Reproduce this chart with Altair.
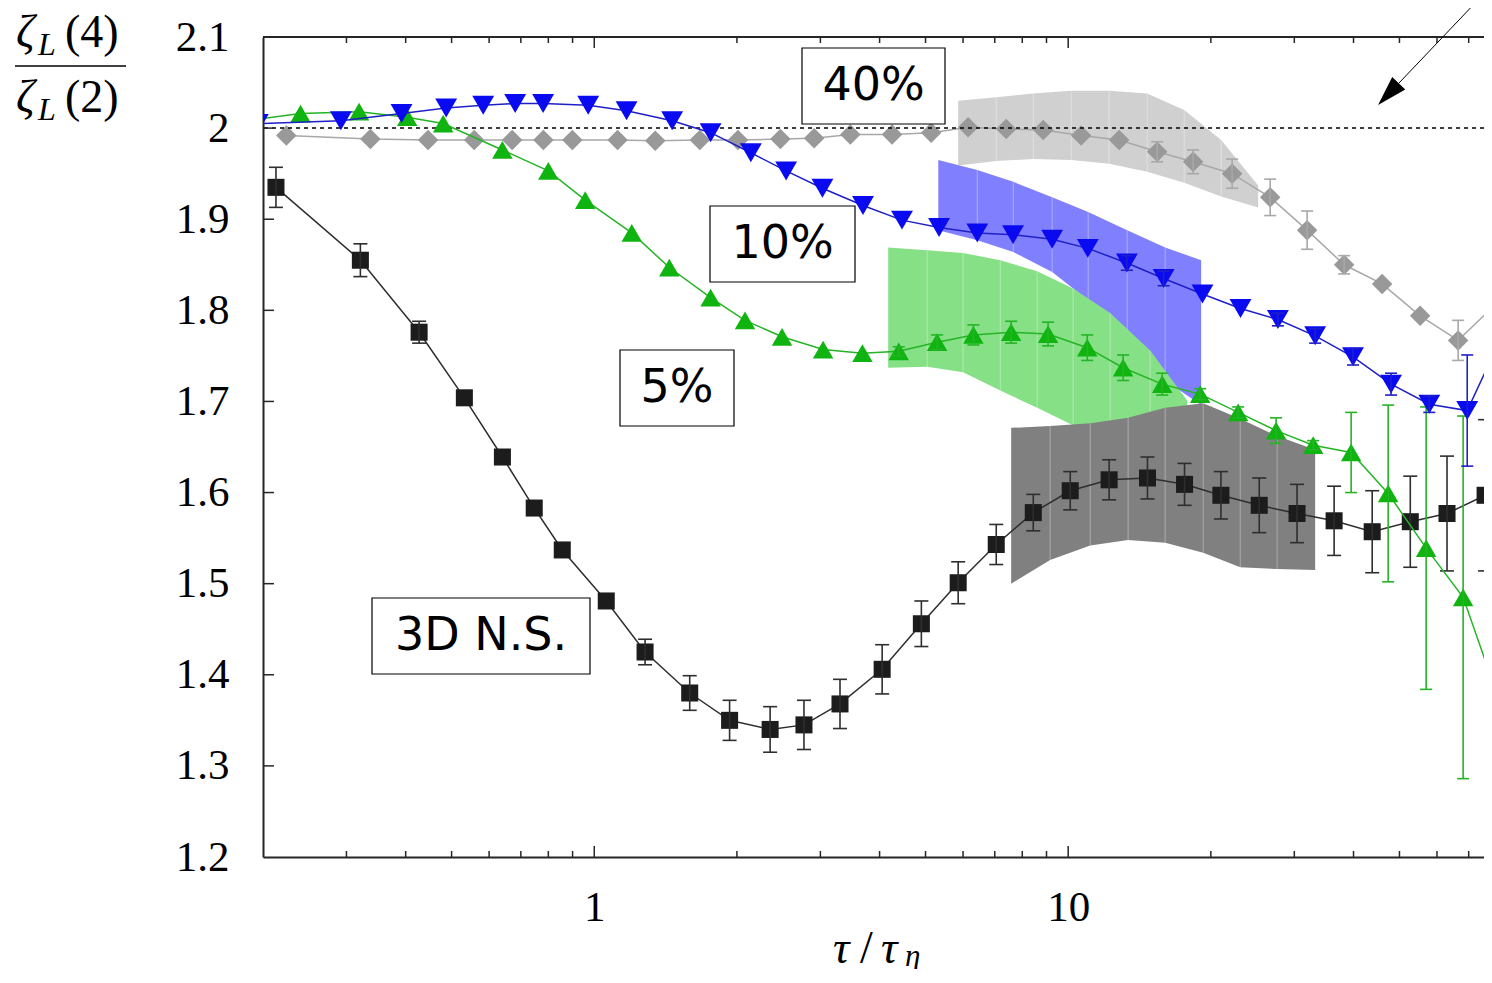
import altair as alt
import pandas as pd

# ---------------- data ----------------
# 3D Navier-Stokes (black squares)
ns_tau = [0.213, 0.321, 0.427, 0.532, 0.640, 0.747, 0.856, 1.06, 1.28, 1.59,
          1.93, 2.35, 2.77, 3.30, 4.05, 4.90, 5.86, 7.05, 8.44, 10.1,
          12.2, 14.7, 17.6, 21.0, 25.3, 30.4, 36.4, 43.8, 52.7, 63.0, 75.8]
ns_val = [1.935, 1.855, 1.776, 1.704, 1.639, 1.583, 1.537, 1.481, 1.425, 1.380,
          1.350, 1.340, 1.345, 1.368, 1.406, 1.456, 1.501, 1.543, 1.578, 1.602,
          1.614, 1.616, 1.609, 1.597, 1.586, 1.577, 1.569, 1.557, 1.568, 1.577, 1.597]
ns_err = [0.022, 0.018, 0.012, 0, 0, 0, 0, 0, 0.014, 0.019,
          0.022, 0.025, 0.027, 0.027, 0.027, 0.025, 0.023, 0.022, 0.020, 0.021,
          0.022, 0.023, 0.023, 0.026, 0.030, 0.032, 0.038, 0.045, 0.050, 0.063, 0.083]

# 40% (grey diamonds)
p40_tau = [0.224, 0.337, 0.446, 0.558, 0.671, 0.781, 0.899, 1.12, 1.345, 1.67,
           2.01, 2.47, 2.91, 3.47, 4.25, 5.14, 6.15, 7.40, 8.86, 10.65,
           12.81, 15.41, 18.35, 22.18, 26.68, 31.93, 38.22, 45.96, 55.28, 66.50, 79.6]
p40_val = [1.992, 1.988, 1.987, 1.987, 1.987, 1.987, 1.987, 1.987, 1.986, 1.987,
           1.987, 1.988, 1.989, 1.993, 1.993, 1.995, 2.001, 1.999, 1.998, 1.992,
           1.987, 1.974, 1.963, 1.950, 1.924, 1.888, 1.850, 1.829, 1.794, 1.767, 1.806]
p40_err = [0, 0, 0, 0, 0, 0, 0, 0, 0, 0,
           0, 0, 0, 0, 0, 0, 0, 0, 0, 0,
           0, 0.011, 0.013, 0.016, 0.020, 0.021, 0.010, 0, 0, 0.022, 0]

# 5% (green up-triangles)
p5_tau = [0.16, 0.240, 0.319, 0.403, 0.480, 0.640, 0.800, 0.957, 1.20, 1.44,
          1.76, 2.08, 2.49, 3.04, 3.68, 4.39, 5.29, 6.31, 7.58, 9.07,
          10.97, 13.06, 15.79, 18.99, 22.84, 27.46, 32.88, 39.54, 47.33, 56.92, 68.13, 81.94]
p5_val = [2.004, 2.016, 2.018, 2.012, 2.005, 1.976, 1.953, 1.921, 1.885, 1.847,
          1.814, 1.789, 1.771, 1.757, 1.753, 1.755, 1.765, 1.773, 1.776, 1.774,
          1.759, 1.737, 1.719, 1.708, 1.688, 1.668, 1.652, 1.644, 1.599, 1.539, 1.485, 1.366]
p5_err = [0, 0, 0, 0, 0, 0, 0, 0, 0, 0,
          0, 0, 0, 0, 0, 0.005, 0.008, 0.011, 0.012, 0.013,
          0.014, 0.014, 0.012, 0.006, 0.006, 0.014, 0.005, 0.044, 0.097, 0.155, 0.199, 0]

# 10% (blue down-triangles)
p10_tau = [0.195, 0.292, 0.392, 0.487, 0.583, 0.681, 0.780, 0.971, 1.17, 1.46,
           1.76, 2.14, 2.54, 3.03, 3.69, 4.46, 5.34, 6.43, 7.65, 9.25,
           11.0, 13.3, 15.9, 19.2, 23.1, 27.7, 33.2, 39.9, 48.0, 57.8, 69.5, 83.5]
p10_val = [2.005, 2.008, 2.016, 2.022, 2.025, 2.027, 2.027, 2.025, 2.019, 2.008,
           1.995, 1.973, 1.953, 1.934, 1.915, 1.899, 1.891, 1.885, 1.883, 1.878,
           1.868, 1.852, 1.835, 1.818, 1.802, 1.790, 1.772, 1.749, 1.719, 1.697, 1.690, 1.779]
p10_err = [0, 0, 0, 0, 0, 0, 0, 0, 0, 0,
           0, 0, 0, 0, 0, 0, 0, 0, 0, 0,
           0, 0.008, 0.008, 0, 0, 0.007, 0.008, 0.009, 0.012, 0.009, 0.061, 0]

# shaded estimate bands
b40_tau = [5.86, 7.05, 8.44, 10.15, 12.20, 14.68, 17.57, 21.03, 25.17]
b40_hi = [2.030, 2.034, 2.038, 2.041, 2.041, 2.038, 2.020, 1.987, 1.937]
b40_lo = [1.959, 1.964, 1.966, 1.965, 1.961, 1.952, 1.940, 1.925, 1.913]

b10_tau = [5.32, 6.43, 7.66, 9.25, 11.02, 13.32, 16.02, 19.08]
b10_hi = [1.965, 1.954, 1.941, 1.924, 1.908, 1.888, 1.869, 1.855]
b10_lo = [1.888, 1.877, 1.864, 1.842, 1.811, 1.767, 1.723, 1.696]

b5_tau = [4.17, 5.04, 6.00, 7.19, 8.60, 10.24, 12.26, 14.89, 17.83]
b5_hi = [1.869, 1.866, 1.863, 1.855, 1.843, 1.824, 1.797, 1.756, 1.701]
b5_lo = [1.737, 1.738, 1.732, 1.712, 1.693, 1.674, 1.652, 1.636, 1.625]

bns_tau = [7.58, 9.16, 11.13, 13.38, 16.02, 19.27, 23.07, 27.60, 33.20]
bns_hi = [1.671, 1.673, 1.676, 1.682, 1.693, 1.698, 1.681, 1.662, 1.647]
bns_lo = [1.500, 1.526, 1.542, 1.548, 1.545, 1.534, 1.518, 1.516, 1.515]

y_ticks = [1.2, 1.3, 1.4, 1.5, 1.6, 1.7, 1.8, 1.9, 2.0, 2.1]
y_inner_ticks = [1.3, 1.4, 1.5, 1.6, 1.7, 1.8, 1.9, 2.0]
x_major = [1, 10]
x_minor = [0.3, 0.4, 0.5, 0.6, 0.7, 0.8, 0.9, 2, 3, 4, 5, 6, 7, 8, 9, 20, 30, 40, 50, 60, 70]
ref_level = [2.0]

# ---------------- layout / style ----------------
W, H = 1221, 820
SERIF = "Liberation Serif"
SANS = "DejaVu Sans"
FRAME = "#262626"

xscale = alt.Scale(type="log", domain=[0.2, 75.4], nice=False)
yscale = alt.Scale(domain=[1.2, 2.1], nice=False, zero=False)

xaxis = alt.Axis(values=x_major, labelExpr="format(datum.value, 'd')", ticks=False, tickSize=0,
                 grid=False, domain=True, domainColor=FRAME, domainWidth=2,
                 labelFont=SERIF, labelFontSize=43, labelColor="black", labelPadding=29,
                 labelFlush=False, labelOverlap=False, title=None)
yaxis = alt.Axis(values=y_ticks, labelExpr="datum.value == 2 ? '2' : format(datum.value, '.1f')",
                 ticks=False, tickSize=0, grid=False, domain=True, domainColor=FRAME, domainWidth=2,
                 labelFont=SERIF, labelFontSize=43, labelColor="black", labelPadding=34,
                 labelFlush=False, labelOverlap=False, title=None)


def X(f):
    return alt.X(f"{f}:Q", scale=xscale, axis=xaxis)


def Y(f):
    return alt.Y(f"{f}:Q", scale=yscale, axis=yaxis)


one = pd.DataFrame({"k": [0]})
layers = []


def band(tau, lo, hi, color):
    df = pd.DataFrame({"tau": tau, "lo": lo, "hi": hi})
    area = alt.Chart(df).mark_area(color=color, opacity=1, clip=True).encode(
        x=X("tau"), y=Y("lo"), y2=alt.Y2("hi"))
    inner = alt.Chart(df.iloc[1:-1]).mark_rule(color="white", opacity=0.35, strokeWidth=1, clip=True).encode(
        x=X("tau"), y=Y("lo"), y2=alt.Y2("hi"))
    return [area, inner]


def series(tau, val, err, mcolor, lcolor, shape, size, cap):
    df = pd.DataFrame({"tau": tau, "val": val, "err": err})
    line = alt.Chart(df).mark_line(color=lcolor, strokeWidth=1.5, clip=True).encode(
        x=X("tau"), y=Y("val"))
    pts = alt.Chart(df).mark_point(shape=shape, size=size, filled=True, color=mcolor,
                                   opacity=1, strokeWidth=0, clip=True).encode(x=X("tau"), y=Y("val"))
    e = df[df["err"] > 0].copy()
    e["lo"] = e["val"] - e["err"]
    e["hi"] = e["val"] + e["err"]
    bars = alt.Chart(e).mark_rule(color=lcolor, strokeWidth=1.6, clip=True).encode(
        x=X("tau"), y=Y("lo"), y2=alt.Y2("hi"))
    caps_df = pd.DataFrame({"tau": list(e["tau"]) * 2, "y": list(e["lo"]) + list(e["hi"])})
    caps = alt.Chart(caps_df).mark_tick(orient="horizontal", size=cap, thickness=1.6,
                                        color=lcolor, opacity=1, clip=True).encode(x=X("tau"), y=Y("y"))
    return [line, pts, bars, caps]


def text(s, x, y, size, font=SERIF, style="normal", align="left", baseline="alphabetic"):
    return alt.Chart(one).mark_text(text=s, font=font, fontSize=size, fontStyle=style, align=align,
                                    baseline=baseline, color="black").encode(x=alt.value(x), y=alt.value(y))


def box(x1, x2, y1, y2, label):
    r = alt.Chart(one).mark_rect(fill="white", stroke="black", strokeWidth=1.2).encode(
        x=alt.value(x1), x2=alt.value(x2), y=alt.value(y1), y2=alt.value(y2))
    t = text(label, (x1 + x2) / 2, (y1 + y2) / 2, 46, font=SANS, align="center", baseline="middle")
    return [r, t]


# bands
layers += band(b40_tau, b40_lo, b40_hi, "#d0d0d0")
layers += band(b10_tau, b10_lo, b10_hi, "#8080ff")
layers += band(b5_tau, b5_lo, b5_hi, "#86e086")
layers += band(bns_tau, bns_lo, bns_hi, "#808080")

# series
layers += series(ns_tau, ns_val, ns_err, "#1c1c1c", "#2e2e2e", "square", 290, 14)
layers += series(p40_tau, p40_val, p40_err, "#999999", "#a8a8a8", "diamond", 420, 12)
layers.append(alt.Chart(pd.DataFrame({"v": ref_level})).mark_rule(
    color="black", strokeWidth=1.5, strokeDash=[4, 4]).encode(y=Y("v")))
layers += series(p5_tau, p5_val, p5_err, "#10b410", "#25b425", "triangle-up", 420, 12)
layers += series(p10_tau, p10_val, p10_err, "#0a0af0", "#1f1fc8", "triangle-down", 480, 12)

# label boxes (pixel positions inside the plot area)
layers += box(539, 682, 11, 87, "40%")
layers += box(447, 592, 169, 245, "10%")
layers += box(357, 471, 313, 389, "5%")
layers += box(109, 327, 561, 637, "3D N.S.")

# inward ticks
ydf = pd.DataFrame({"v": y_inner_ticks})
layers.append(alt.Chart(ydf).mark_rule(color=FRAME, strokeWidth=1.5).encode(
    y=Y("v"), x=alt.value(0), x2=alt.value(11)))
for vals, ln in ((x_major, 11), (x_minor, 6)):
    xdf = pd.DataFrame({"t": vals})
    layers.append(alt.Chart(xdf).mark_rule(color=FRAME, strokeWidth=1.5).encode(
        x=X("t"), y=alt.value(H), y2=alt.value(H - ln)))
    layers.append(alt.Chart(xdf).mark_rule(color=FRAME, strokeWidth=1.5).encode(
        x=X("t"), y=alt.value(0), y2=alt.value(ln)))

# top frame line
layers.append(alt.Chart(one).mark_rule(color=FRAME, strokeWidth=2).encode(
    x=alt.value(0), x2=alt.value(W + 20), y=alt.value(0)))

# arrow (top right)
layers.append(alt.Chart(one).mark_rule(color="black", strokeWidth=1).encode(
    x=alt.value(1215), y=alt.value(-37), x2=alt.value(1136), y2=alt.value(46)))
layers.append(alt.Chart(one).mark_point(shape="M0,-1L0.6,1L-0.6,1Z", size=900, filled=True, color="black",
                                        opacity=1, strokeWidth=0, angle=223.6).encode(
    x=alt.value(1125.4), y=alt.value(57.1)))

# y title: zeta_L(4) / zeta_L(2)
layers += [
    text("ζ", -247, 10, 46, style="italic"),
    text("L", -225, 18, 32, style="italic"),
    text("(4)", -198, 10, 46),
    text("ζ", -247, 75, 46, style="italic"),
    text("L", -225, 83, 32, style="italic"),
    text("(2)", -198, 75, 46),
]
layers.append(alt.Chart(one).mark_rule(color="black", strokeWidth=1.5).encode(
    x=alt.value(-248), x2=alt.value(-137), y=alt.value(29)))

# x title: tau / tau_eta
layers += [
    text("τ", 570, 926, 46, style="italic"),
    text("/", 597, 926, 46),
    text("τ", 618, 926, 46, style="italic"),
    text("η", 642, 929, 31, style="italic"),
]

chart = alt.layer(*layers).properties(
    width=W, height=H,
    padding={"left": 255, "top": 29, "right": 0, "bottom": 112},
    autosize=alt.AutoSizeParams(type="none"),
).configure_view(strokeWidth=0)

chart.save("out.html", embed_options={"renderer": "svg", "actions": False})
